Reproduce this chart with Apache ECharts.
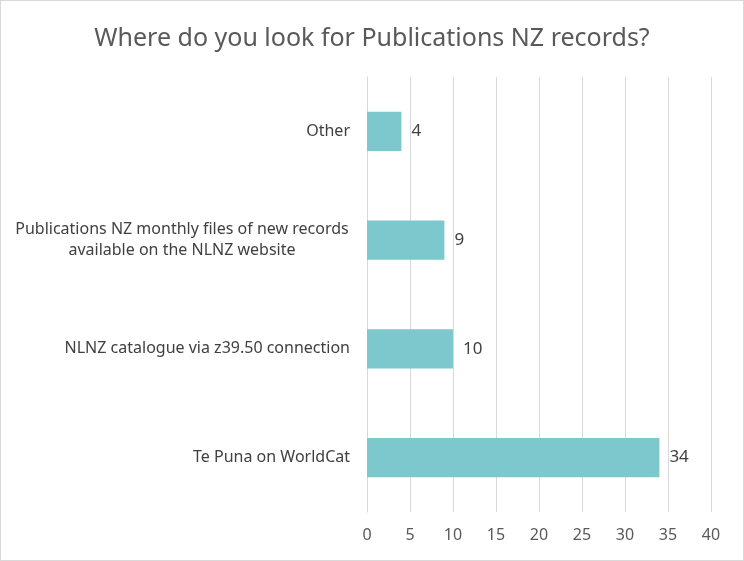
<!DOCTYPE html>
<html><head><meta charset="utf-8">
<script src="https://cdn.jsdelivr.net/npm/echarts@6/dist/echarts.min.js"></script>
<style>html,body{margin:0;padding:0;background:#fff}#c{width:744px;height:561px;box-sizing:border-box;border:1px solid #d9d9d9}</style>
</head><body><div id="c"></div>
<script>
const titleText = 'Where do you look for Publications NZ records?';
const categories = ['Te Puna on WorldCat', 'NLNZ catalogue via z39.50 connection', 'Publications NZ monthly files of new records\navailable on the NLNZ website', 'Other'];
const values = [34, 10, 9, 4];
const xTicks = {min: 0, max: 40, interval: 5};

const chart = echarts.init(document.getElementById('c'));
chart.setOption({
  animation: false,
  title: {text: titleText, left: 'center', top: 20, textStyle: {fontFamily: 'Noto Sans', fontSize: 25, fontWeight: 'normal', color: '#595959'}},
  grid: {left: 366, right: 32, top: 76, bottom: 48},
  xAxis: {type: 'value', min: xTicks.min, max: xTicks.max, interval: xTicks.interval,
    axisLine: {show: false}, axisTick: {show: false},
    splitLine: {lineStyle: {color: '#d9d9d9', width: 1}},
    axisLabel: {fontFamily: 'Noto Sans', fontSize: 16, color: '#595959', margin: 15}},
  yAxis: {type: 'category', data: categories,
    axisLine: {show: true, lineStyle: {color: '#d9d9d9'}}, axisTick: {show: false},
    axisLabel: {fontFamily: 'Noto Sans', fontSize: 16, color: '#404040', margin: 17, lineHeight: 21,
      formatter: function (v) {
        if (v.indexOf('\n') >= 0) return v.split('\n').map(s => '{c|' + s + '}').join('\n');
        return v;
      },
      rich: {c: {width: 336, align: 'center', fontFamily: 'Noto Sans', fontSize: 16, color: '#404040', lineHeight: 21}}}},
  series: [{type: 'bar', data: values, barCategoryGap: '64%', itemStyle: {color: '#7CC8CC'},
    label: {show: true, position: 'right', distance: 10, fontFamily: 'Noto Sans', fontSize: 17, color: '#404040'}}]
});
</script></body></html>
